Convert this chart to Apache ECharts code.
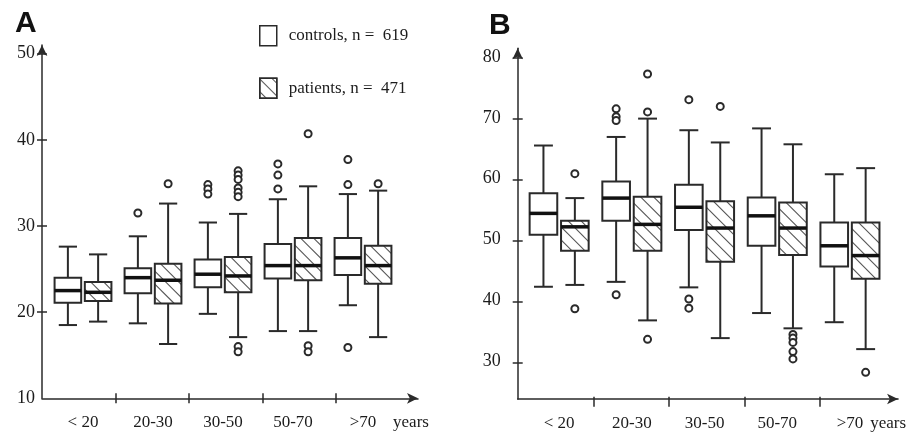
<!DOCTYPE html>
<html lang="en">
<head>
    <meta charset="UTF-8">
    <title>BMI and age by group</title>
    <script src="https://cdn.jsdelivr.net/npm/echarts@6/dist/echarts.min.js"></script>
    <style>
        html, body { margin: 0; padding: 0; background: #fff; }
        #main { width: 909px; height: 432px; }
    </style>
</head>
<body>

<div id="main"></div>

<script type="text/javascript">

    var categories = ['< 20', '20-30', '30-50', '50-70', '>70'];
    var controlsName = 'controls, n =  619';
    var patientsName = 'patients, n =  471';

    // panel A, each row: [min, Q1, median, Q3, max]
    var aControls = [
        [18.5, 21.1, 22.5, 24.0, 27.6],
        [18.7, 22.2, 24.0, 25.1, 28.8],
        [19.8, 22.9, 24.4, 26.1, 30.4],
        [17.8, 23.9, 25.4, 27.9, 33.1],
        [20.8, 24.3, 26.3, 28.6, 33.7]
    ];
    var aPatients = [
        [18.9, 21.3, 22.3, 23.5, 26.7],
        [16.3, 21.0, 23.7, 25.6, 32.6],
        [17.1, 22.3, 24.2, 26.4, 31.4],
        [17.8, 23.7, 25.4, 28.6, 34.6],
        [17.1, 23.3, 25.4, 27.7, 34.1]
    ];
    // outliers: [category index, value]
    var aControlsOut = [[1, 31.5], [2, 34.8], [2, 34.3], [2, 33.7], [3, 37.2], [3, 35.9], [3, 34.3],
        [4, 37.7], [4, 34.8], [4, 15.9]];
    var aPatientsOut = [[1, 34.9], [2, 36.4], [2, 35.9], [2, 35.4], [2, 34.4], [2, 33.9], [2, 33.4],
        [2, 16.0], [2, 15.4], [3, 40.7], [3, 16.1], [3, 15.4], [4, 34.9]];
    var aTicks = [20, 30, 40, 50];
    var aLabels = [10, 20, 30, 40, 50];

    // panel B
    var bControls = [
        [42.5, 51.0, 54.5, 57.8, 65.6],
        [43.3, 53.3, 57.0, 59.7, 67.0],
        [42.4, 51.8, 55.5, 59.2, 68.1],
        [38.2, 49.2, 54.1, 57.1, 68.4],
        [36.7, 45.8, 49.2, 53.0, 60.9]
    ];
    var bPatients = [
        [42.8, 48.4, 52.3, 53.3, 57.0],
        [37.0, 48.4, 52.7, 57.2, 70.0],
        [34.1, 46.6, 52.1, 56.5, 66.1],
        [35.7, 47.7, 52.1, 56.3, 65.8],
        [32.3, 43.8, 47.6, 53.0, 61.9]
    ];
    var bControlsOut = [[1, 71.6], [1, 70.3], [1, 69.7], [1, 41.2], [2, 73.1], [2, 40.5], [2, 39.0]];
    var bPatientsOut = [[0, 61.0], [0, 38.9], [1, 77.3], [1, 71.1], [1, 33.9], [2, 72.0],
        [3, 34.7], [3, 34.1], [3, 33.4], [3, 31.9], [3, 30.7], [4, 28.5]];
    var bTicks = [30, 40, 50, 60, 70, 80];

    var sepTicks = [1, 2, 3, 4];

    var LINE = '#2a2a2a';
    var TEXT = '#1c1c1c';
    var FONT = 'Liberation Serif';

    // box geometry as fractions of one category band
    var PAIR_OFFSET = 0.216;
    var BOX_W = 0.38;
    var CAP_W = 0.26;
    var HATCH_STEP = 13;

    var gridA = {left: 42, top: 45, width: 376, height: 353.3};
    var gridABox = {left: 48, top: 45, width: 350, height: 353.3};
    var gridB = {left: 517.7, top: 48.3, width: 382.3, height: 353.4};
    var gridBBox = {left: 522.8, top: 48.3, width: 363.5, height: 353.4};

    function boxRenderer(side, hatched) {
        return function (params, api) {
            var bw = api.size([1, 0])[0];
            var cx = api.coord([api.value(0), 0])[0] + side * bw * PAIR_OFFSET;
            var yMin = api.coord([0, api.value(1)])[1];
            var yQ1 = api.coord([0, api.value(2)])[1];
            var yMed = api.coord([0, api.value(3)])[1];
            var yQ3 = api.coord([0, api.value(4)])[1];
            var yMax = api.coord([0, api.value(5)])[1];
            var half = bw * BOX_W / 2, cap = bw * CAP_W / 2;
            var ls = {stroke: LINE, lineWidth: 2};
            var x0 = cx - half, w = half * 2, h = yQ1 - yQ3;
            var kids = [
                {type: 'line', shape: {x1: cx, y1: yMax, x2: cx, y2: yQ3}, style: ls},
                {type: 'line', shape: {x1: cx, y1: yQ1, x2: cx, y2: yMin}, style: ls},
                {type: 'line', shape: {x1: cx - cap, y1: yMax, x2: cx + cap, y2: yMax}, style: ls},
                {type: 'line', shape: {x1: cx - cap, y1: yMin, x2: cx + cap, y2: yMin}, style: ls},
                {type: 'rect', shape: {x: x0, y: yQ3, width: w, height: h}, style: {fill: '#fff'}}
            ];
            if (hatched) {
                // "\" lines clipped to the box: v = u + c in box coords
                for (var c = -w + HATCH_STEP * 0.6; c < h; c += HATCH_STEP) {
                    var u0 = Math.max(0, -c), u1 = Math.min(w, h - c);
                    if (u1 > u0) {
                        kids.push({
                            type: 'line',
                            shape: {x1: x0 + u0, y1: yQ3 + u0 + c, x2: x0 + u1, y2: yQ3 + u1 + c},
                            style: {stroke: '#555', lineWidth: 1.1}
                        });
                    }
                }
            }
            kids.push({type: 'rect', shape: {x: x0, y: yQ3, width: w, height: h},
                style: {fill: null, stroke: LINE, lineWidth: 2}});
            kids.push({type: 'line', shape: {x1: x0, y1: yMed, x2: x0 + w, y2: yMed},
                style: {stroke: '#111', lineWidth: 3.5}});
            return {type: 'group', children: kids};
        };
    }

    function withIndex(rows) {
        return rows.map(function (r, i) { return [i].concat(r); });
    }

    function labelStyle(extra) {
        var s = {fontFamily: FONT, fontSize: 17, color: TEXT};
        for (var k in extra) s[k] = extra[k];
        return s;
    }

    // three grids per panel: visible axes, ticks crossing the axes, boxes
    function panelAxes(grid, boxGrid, yMin, yMax, xMax, yTicks, yLabels, yMargin, xMargin, nameGap) {
        var arrow = {show: true, onZero: false, symbol: ['none', 'arrow'], symbolSize: [8, 11],
            lineStyle: {color: LINE, width: 1.5}};
        var hiddenLine = {show: true, onZero: false, lineStyle: {color: 'rgba(0,0,0,0)', width: 1}};
        // ticks 10 long on an axis pulled 5px inside, so they cross the real axis line
        var tick = {show: true, lineStyle: {color: LINE, width: 1.5}, length: 10};
        var xs = [
            {type: 'value', min: 0, max: xMax, axisLine: arrow, axisTick: {show: false},
                axisLabel: {show: false}, splitLine: {show: false},
                name: 'years', nameLocation: 'end', nameGap: nameGap,
                nameTextStyle: labelStyle({align: 'center', verticalAlign: 'top', padding: [16, 0, 0, 0]})},
            {type: 'value', min: 0, max: xMax, offset: -5, axisLine: hiddenLine,
                axisTick: Object.assign({customValues: sepTicks}, tick),
                axisLabel: {show: false}, splitLine: {show: false}},
            {type: 'category', data: categories, axisLine: {show: false, onZero: false},
                axisTick: {show: false}, splitLine: {show: false},
                axisLabel: labelStyle({interval: 0, margin: xMargin})}
        ];
        var ys = [
            {type: 'value', min: yMin, max: yMax, axisLine: arrow, axisTick: {show: false},
                axisLabel: labelStyle({customValues: yLabels, margin: yMargin, fontSize: 18}),
                splitLine: {show: false}},
            {type: 'value', min: yMin, max: yMax, offset: -5, axisLine: hiddenLine,
                axisTick: Object.assign({customValues: yTicks}, tick),
                axisLabel: {show: false}, splitLine: {show: false}},
            {type: 'value', min: yMin, max: yMax, show: false}
        ];
        return {grids: [grid, grid, boxGrid], xs: xs, ys: ys};
    }

    var pa = panelAxes(gridA, gridABox, 10, 51, 5.12, aTicks, aLabels, 7, 16, -7);
    var pb = panelAxes(gridB, gridBBox, 23.7, 81.5, 5.06, bTicks, bTicks, 17, 13, -10);

    var grids = pa.grids.concat(pb.grids);
    var xAxes = pa.xs.concat(pb.xs);
    var yAxes = pa.ys.concat(pb.ys);
    xAxes.forEach(function (a, i) { a.gridIndex = i; });
    yAxes.forEach(function (a, i) { a.gridIndex = i; });

    function boxSeries(name, rows, axisIdx, side, hatched) {
        return {
            name: name, type: 'custom', xAxisIndex: axisIdx, yAxisIndex: axisIdx,
            renderItem: boxRenderer(side, hatched), silent: true, z: 2,
            encode: {x: 0, y: [1, 2, 3, 4, 5]},
            data: withIndex(rows)
        };
    }

    function outlierSeries(points, axisIdx, side, boxGrid) {
        var off = boxGrid.width / categories.length * PAIR_OFFSET * side;
        return {
            type: 'scatter', xAxisIndex: axisIdx, yAxisIndex: axisIdx, silent: true, z: 3,
            symbol: 'circle', symbolSize: 7, symbolOffset: [off, 0],
            itemStyle: {color: '#fff', borderColor: LINE, borderWidth: 2, opacity: 1},
            data: points
        };
    }

    var chart = echarts.init(document.getElementById('main'));

    chart.setOption({
        animation: false,
        title: [
            {text: 'A', left: 15, top: 9, padding: 0,
                textStyle: {fontFamily: 'Liberation Sans', fontSize: 30, fontWeight: 'bold', color: '#111'}},
            {text: 'B', left: 489, top: 11, padding: 0,
                textStyle: {fontFamily: 'Liberation Sans', fontSize: 30, fontWeight: 'bold', color: '#111'}}
        ],
        legend: {
            orient: 'vertical', left: 259, top: 25, padding: 0,
            itemWidth: 17, itemHeight: 20, itemGap: 31, selectedMode: false,
            textStyle: labelStyle({padding: [2, 0, 0, 7]}),
            data: [
                {name: controlsName, icon: 'rect',
                    itemStyle: {color: '#fff', borderColor: LINE, borderWidth: 1.5}},
                {name: patientsName, icon: 'rect',
                    itemStyle: {color: '#fff', borderColor: LINE, borderWidth: 1.5,
                        decal: {symbol: 'rect', symbolSize: 1, color: '#555',
                            dashArrayX: [1, 0], dashArrayY: [1, 8], rotation: Math.PI / 4}}}
            ]
        },
        grid: grids,
        xAxis: xAxes,
        yAxis: yAxes,
        series: [
            boxSeries(controlsName, aControls, 2, -1, false),
            boxSeries(patientsName, aPatients, 2, 1, true),
            outlierSeries(aControlsOut, 2, -1, gridABox),
            outlierSeries(aPatientsOut, 2, 1, gridABox),
            boxSeries(controlsName, bControls, 5, -1, false),
            boxSeries(patientsName, bPatients, 5, 1, true),
            outlierSeries(bControlsOut, 5, -1, gridBBox),
            outlierSeries(bPatientsOut, 5, 1, gridBBox)
        ]
    });

</script>

</body>
</html>
